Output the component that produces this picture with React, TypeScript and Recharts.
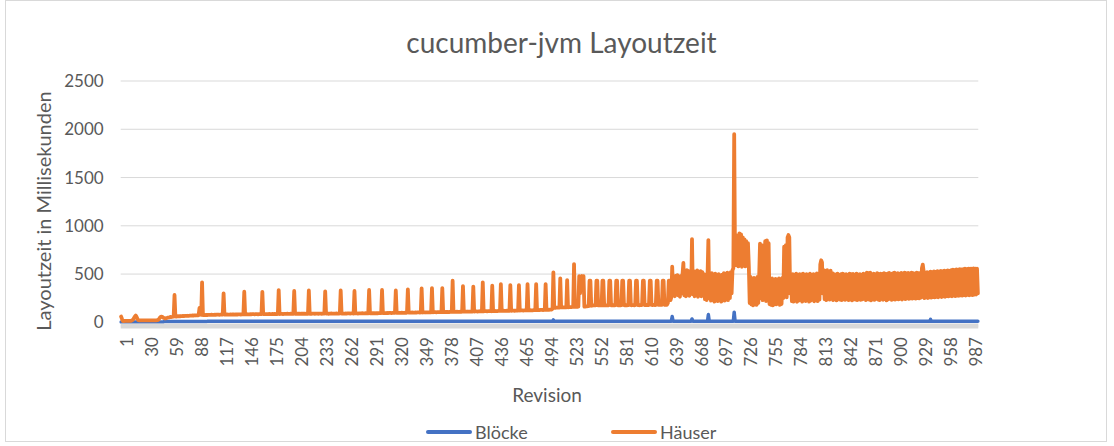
import React from 'react';
import { LineChart, Line, XAxis, YAxis, CartesianGrid, Legend } from 'recharts';

// Häuser (orange) layout times per revision, 100 revisions per chunk
const hauser001 = [
  60, 35, 15, 12, 14, 15, 16, 15, 14, 15,
  16, 15, 18, 22, 30, 45, 60, 70, 55, 35,
  22, 20, 20, 21, 20, 20, 21, 20, 20, 21,
  20, 20, 21, 20, 20, 21, 20, 20, 21, 20,
  20, 21, 22, 25, 35, 48, 58, 60, 55, 48,
  45, 40, 42, 45, 48, 50, 52, 55, 55, 56,
  58, 60, 283, 62, 60, 62, 63, 62, 64, 63,
  65, 64, 66, 65, 66, 67, 66, 68, 67, 68,
  70, 69, 70, 71, 70, 72, 71, 72, 73, 72,
  74, 150, 110, 78, 414, 76, 75, 76, 75, 77,
];
const hauser101 = [
  76, 77, 78, 77, 78, 79, 78, 77, 78, 79,
  78, 79, 80, 79, 78, 79, 80, 79, 80, 300,
  80, 79, 80, 81, 80, 79, 80, 81, 80, 81,
  82, 81, 80, 81, 82, 81, 82, 83, 82, 81,
  82, 83, 82, 317, 82, 83, 84, 83, 82, 83,
  84, 83, 84, 85, 84, 83, 84, 85, 84, 83,
  84, 85, 84, 85, 315, 84, 85, 86, 85, 84,
  85, 86, 87, 86, 85, 86, 87, 86, 87, 86,
  87, 86, 87, 334, 86, 87, 88, 87, 86, 87,
  88, 87, 88, 89, 88, 87, 88, 89, 88, 87,
];
const hauser201 = [
  88, 325, 88, 89, 88, 89, 90, 89, 88, 89,
  90, 89, 90, 89, 88, 89, 90, 89, 330, 89,
  90, 89, 90, 91, 90, 89, 90, 91, 90, 89,
  90, 91, 90, 89, 90, 91, 90, 320, 90, 91,
  90, 89, 90, 91, 92, 91, 90, 91, 90, 91,
  92, 91, 90, 91, 92, 330, 91, 92, 91, 90,
  91, 92, 91, 92, 93, 92, 91, 92, 93, 92,
  91, 325, 92, 93, 92, 91, 92, 93, 92, 93,
  94, 93, 92, 93, 94, 93, 92, 93, 335, 93,
  94, 93, 94, 95, 94, 93, 94, 95, 94, 95,
];
const hauser301 = [
  95, 96, 95, 335, 96, 97, 96, 95, 96, 97,
  96, 97, 98, 97, 96, 97, 98, 97, 98, 330,
  98, 97, 98, 99, 98, 99, 100, 99, 98, 99,
  100, 99, 100, 342, 100, 101, 100, 101, 102, 101,
  100, 101, 102, 101, 102, 103, 102, 101, 102, 352,
  102, 103, 104, 103, 102, 103, 104, 103, 104, 105,
  104, 355, 104, 105, 106, 105, 104, 105, 106, 105,
  106, 107, 106, 355, 106, 107, 106, 107, 108, 107,
  106, 107, 108, 109, 108, 431, 108, 109, 108, 109,
  110, 109, 108, 109, 110, 109, 110, 376, 110, 111,
];
const hauser401 = [
  110, 111, 112, 111, 110, 111, 112, 113, 112, 370,
  112, 113, 114, 113, 112, 113, 114, 115, 114, 113,
  414, 114, 115, 116, 115, 114, 115, 116, 117, 116,
  115, 379, 116, 117, 118, 117, 116, 117, 118, 119,
  118, 396, 118, 119, 120, 119, 118, 119, 120, 121,
  120, 119, 385, 120, 121, 122, 121, 120, 121, 122,
  123, 122, 385, 122, 123, 124, 123, 122, 123, 124,
  125, 124, 396, 124, 125, 126, 125, 124, 125, 126,
  127, 126, 396, 126, 127, 128, 127, 128, 129, 128,
  127, 128, 129, 396, 129, 130, 131, 130, 131, 132,
];
const hauser501 = [
  133, 140, 518, 150, 152, 151, 153, 152, 154, 153,
  455, 154, 155, 156, 155, 154, 156, 155, 438, 156,
  157, 158, 157, 158, 159, 160, 603, 160, 161, 160,
  161, 162, 479, 300, 470, 479, 420, 479, 163, 164,
  165, 166, 167, 168, 431, 431, 172, 174, 175, 176,
  175, 176, 431, 431, 176, 175, 177, 176, 175, 431,
  431, 176, 177, 175, 176, 178, 177, 431, 431, 177,
  176, 178, 177, 176, 178, 431, 431, 177, 178, 176,
  177, 178, 431, 431, 178, 177, 176, 178, 177, 179,
  431, 431, 178, 177, 179, 178, 177, 178, 431, 431,
];
const hauser601 = [
  179, 178, 177, 179, 178, 180, 431, 431, 179, 178,
  180, 179, 178, 180, 431, 431, 180, 179, 181, 180,
  179, 181, 431, 431, 180, 181, 182, 180, 181, 431,
  431, 182, 181, 183, 182, 200, 431, 431, 230, 260,
  576, 300, 470, 270, 480, 290, 490, 280, 460, 265,
  480, 300, 500, 615, 280, 520, 270, 541, 290, 530,
  275, 510, 300, 862, 290, 530, 270, 520, 280, 539,
  265, 510, 285, 530, 270, 520, 290, 500, 240, 480,
  230, 470, 852, 250, 500, 225, 510, 240, 490, 215,
  505, 230, 480, 220, 500, 240, 470, 215, 495, 230,
];
const hauser701 = [
  510, 225, 490, 240, 515, 230, 500, 250, 520, 300,
  540, 560, 1949, 600, 880, 590, 900, 580, 920, 600,
  910, 576, 880, 590, 860, 580, 840, 600, 820, 580,
  200, 470, 185, 450, 176, 460, 190, 440, 180, 470,
  200, 480, 816, 250, 800, 230, 780, 300, 840, 220,
  850, 260, 820, 190, 440, 180, 455, 176, 430, 190,
  450, 185, 440, 200, 455, 180, 445, 190, 460, 250,
  783, 300, 800, 260, 880, 904, 880, 300, 480, 220,
  500, 215, 490, 230, 505, 213, 480, 225, 500, 240,
  495, 215, 505, 230, 480, 220, 500, 235, 490, 215,
];
const hauser801 = [
  505, 225, 485, 240, 500, 218, 495, 230, 507, 220,
  490, 235, 600, 643, 620, 300, 540, 240, 530, 230,
  540, 250, 520, 235, 535, 245, 510, 230, 500, 240,
  495, 228, 505, 245, 490, 235, 500, 230, 505, 240,
  495, 232, 500, 245, 490, 230, 505, 238, 498, 228,
  502, 242, 492, 235, 505, 230, 495, 240, 500, 232,
  490, 238, 505, 245, 495, 230, 515, 240, 510, 235,
  515, 228, 500, 240, 505, 232, 495, 245, 510, 236,
  500, 230, 505, 242, 498, 234, 510, 240, 500, 228,
  505, 238, 512, 245, 500, 232, 508, 240, 515, 235,
];
const hauser901 = [
  505, 242, 510, 238, 500, 245, 512, 236, 505, 248,
  515, 240, 508, 250, 512, 242, 505, 248, 515, 245,
  510, 250, 505, 246, 515, 252, 510, 248, 512, 255,
  560, 598, 530, 250, 515, 258, 520, 252, 515, 260,
  525, 255, 518, 262, 528, 258, 520, 265, 530, 260,
  525, 268, 532, 262, 528, 270, 535, 265, 530, 272,
  538, 268, 534, 274, 540, 270, 545, 276, 540, 272,
  548, 278, 545, 275, 550, 280, 548, 276, 552, 282,
  555, 278, 550, 284, 557, 280, 555, 285, 557, 282,
  559, 286, 555, 288, 557, 300,
];

// Blöcke (blue): plateaus as [fromRevision, toRevision, value]
const bloeckeRuns: [number, number, number][] = [
  [1, 50, 3],
  [51, 100, 8],
  [101, 502, 10],
  [503, 503, 25],
  [504, 640, 12],
  [641, 641, 60],
  [642, 663, 12],
  [664, 664, 35],
  [665, 682, 12],
  [683, 683, 80],
  [684, 712, 12],
  [713, 713, 105],
  [714, 940, 12],
  [941, 941, 30],
  [942, 996, 12],
];

const xTicks = [1, 30, 59, 88, 117, 146, 175, 204, 233, 262, 291, 320, 349, 378, 407, 436, 465, 494, 523, 552, 581, 610, 639, 668, 697, 726, 755, 784, 813, 842, 871, 900, 929, 958, 987];
const yTicks = [0, 500, 1000, 1500, 2000, 2500];

const seriesNames = { bloecke: 'Blöcke', hauser: 'Häuser' };
const titleText = 'cucumber-jvm Layoutzeit';
const yTitle = 'Layoutzeit in Millisekunden';
const xTitle = 'Revision';

const hauser = [
  ...hauser001, ...hauser101, ...hauser201, ...hauser301, ...hauser401,
  ...hauser501, ...hauser601, ...hauser701, ...hauser801, ...hauser901,
];

const bloeckeAt = (rev: number) => {
  const run = bloeckeRuns.find(([a, b]) => rev >= a && rev <= b);
  return run ? run[2] : null;
};

const data = hauser.map((v, i) => ({ rev: i + 1, hauser: v, bloecke: bloeckeAt(i + 1) }));

const FONT = 'Lato, "Open Sans", "DejaVu Sans", sans-serif';
const TEXT = '#595959';

const renderLegend = (props: any) => {
  const payload = props.payload || [];
  const lefts = [426, 611];
  return (
    <div style={{ position: 'relative', width: 1114, height: 24 }}>
      {payload.map((entry: any, i: number) => (
        <div
          key={i}
          style={{ position: 'absolute', left: lefts[i] ?? 0, top: 0, height: 24, display: 'flex', alignItems: 'center' }}
        >
          <svg width={46} height={8}>
            <line x1={2} y1={4} x2={44} y2={4} stroke={entry.color} strokeWidth={4} strokeLinecap="round" />
          </svg>
          <span style={{ marginLeft: 3, fontSize: 18, color: TEXT, fontFamily: FONT, lineHeight: '24px' }}>{entry.value}</span>
        </div>
      ))}
    </div>
  );
};

export default function App() {
  return (
    <div style={{ position: 'absolute', left: 0, top: 0, width: 1114, height: 446, fontFamily: FONT, background: '#fff' }}>
      <div style={{ position: 'absolute', left: 5, top: 0, width: 1102, height: 442, border: '1px solid #d9d9d9', boxSizing: 'border-box' }} />
      <div
        style={{ position: 'absolute', left: 0, top: 25, width: 1123, textAlign: 'center', fontSize: 28, lineHeight: '34px', color: TEXT, fontFamily: FONT }}
      >
        {titleText}
      </div>
      <div
        style={{
          position: 'absolute', left: 43, top: 211, transform: 'translate(-50%, -50%) rotate(-90deg)',
          whiteSpace: 'nowrap', fontSize: 20, lineHeight: '24px', color: TEXT, fontFamily: FONT,
        }}
      >
        {yTitle}
      </div>
      <div
        style={{
          position: 'absolute', left: 547, top: 394, transform: 'translate(-50%, -50%)',
          whiteSpace: 'nowrap', fontSize: 19, lineHeight: '23px', color: TEXT, fontFamily: FONT,
        }}
      >
        {xTitle}
      </div>
      <div style={{ position: 'absolute', left: 0, top: 0 }}>
        <LineChart width={1114} height={446} data={data} margin={{ top: 81, right: 135.7, bottom: 0, left: 0 }}>
          <CartesianGrid vertical={false} stroke="#d9d9d9" strokeWidth={1} />
          <XAxis
            dataKey="rev"
            type="number"
            domain={[0.5, 996.5]}
            ticks={xTicks}
            interval={0}
            height={120}
            tickLine={false}
            tickSize={0}
            tickMargin={11}
            axisLine={{ stroke: '#d9d9d9', strokeWidth: 5 }}
            tick={{ angle: -90, textAnchor: 'end', verticalAnchor: 'middle', fill: TEXT, fontSize: 17, fontFamily: FONT } as any}
          />
          <YAxis
            type="number"
            domain={[-38, 2500]}
            ticks={yTicks}
            interval={0}
            width={120.7}
            axisLine={false}
            tickLine={false}
            tickSize={0}
            tickMargin={17}
            tick={{ fill: TEXT, fontSize: 17, fontFamily: FONT }}
          />
          <Legend
            layout="horizontal"
            verticalAlign="middle"
            align="center"
            content={renderLegend}
            wrapperStyle={{ top: 420, left: 0, width: 1114, height: 24 }}
          />
          <Line
            type="linear"
            dataKey="bloecke"
            name={seriesNames.bloecke}
            stroke="#4472C4"
            strokeWidth={3.5}
            dot={false}
            activeDot={false}
            strokeLinejoin="round"
            strokeLinecap="round"
            isAnimationActive={false}
          />
          <Line
            type="linear"
            dataKey="hauser"
            name={seriesNames.hauser}
            stroke="#ED7D31"
            strokeWidth={3.8}
            dot={false}
            activeDot={false}
            strokeLinejoin="round"
            strokeLinecap="round"
            isAnimationActive={false}
          />
        </LineChart>
      </div>
    </div>
  );
}
